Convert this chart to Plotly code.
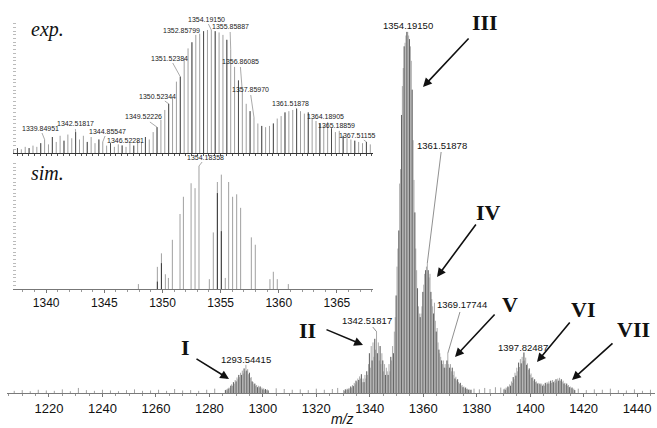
import plotly.graph_objects as go

# ---------------- data (relative intensity, %) ----------------
ISO_STEP = 1 / 3  # isotope spacing of the 3+ ions

CL1_START = 1286.0   # cluster I
CL1 = [0.8, 1.0, 0.7, 1.2, 1.5, 1.3, 2.0, 2.4, 2.0, 3.0, 2.6, 3.6, 3.2, 4.3, 3.8,
       5.0, 4.4, 5.6, 5.0, 6.2, 5.4, 6.8, 6.0, 7.8, 6.2, 6.6, 5.2, 5.6, 4.2, 4.4,
       3.2, 3.0, 2.4, 2.6, 2.0, 2.2, 1.6, 2.0, 1.5, 1.8, 1.2, 1.5, 1.0, 1.3, 0.9,
       1.1, 0.8, 1.0, 0.7]

PRE2_START = 1330.2  # rising edge of cluster II
PRE2 = [0.8, 0.6, 1.0, 0.9, 1.2, 1.0, 1.4, 1.2, 1.8, 1.5, 2.2, 1.9, 2.8, 2.4, 3.4,
        3.0, 4.0, 3.6, 4.6, 4.0, 5.2]

EXP_START = 1337.2   # clusters II-IV (also the "exp." inset)
EXP = [3, 4, 3, 5, 4, 6, 5, 8, 11, 7, 13, 9, 14, 10, 15, 12, 17, 11, 14, 9, 13,
       8, 11, 9, 6, 8, 5, 7, 6, 5, 8, 6, 10, 9, 13, 11, 17, 21, 27, 35, 40, 45,
       58, 62, 77, 85, 90, 96, 97, 99, 100, 100, 99, 98, 96, 92, 84, 70, 59, 50,
       40, 34, 29, 24, 22, 21, 22, 24, 28, 30, 33, 34, 35, 36, 34, 32, 33, 28,
       26, 24, 22, 25, 20, 17, 18, 14, 12, 11, 10, 9, 8, 9, 7]

TAIL5_START = 1368.2  # cluster V tail
TAIL5 = [8, 7, 9, 11, 8, 7, 8, 6, 7, 5, 6, 4, 4.5, 3.5, 3.8, 3, 2.5, 2.8, 2, 2.2,
         1.6, 1.8, 1.3, 1.5, 1.1, 1.2, 0.9, 1.0, 0.8, 0.9]

CL67_START = 1390.0  # clusters VI and VII
CL67 = [1.0, 1.2, 0.9, 1.5, 1.3, 1.8, 1.6, 2.4, 2.0, 3.2, 2.8, 4.4, 3.8, 5.6, 4.8,
        7.0, 6.0, 8.4, 7.2, 9.4, 8.2, 10.0, 8.8, 11.2, 9.0, 9.8, 7.8, 8.2, 6.4, 6.8,
        5.0, 5.4, 4.2, 4.4, 3.4, 3.8, 3.0, 3.2, 2.6, 2.8, 2.4, 2.6, 2.2, 2.6, 2.0,
        2.4, 2.0, 2.8, 2.4, 3.0, 2.6, 3.2, 2.6, 3.4, 2.8, 3.6, 3.0, 3.4, 2.8, 3.8,
        3.2, 4.0, 3.4, 4.2, 3.4, 3.8, 3.0, 3.4, 2.6, 2.8, 2.2, 2.6, 2.0, 2.2, 1.6,
        1.8, 1.3, 1.5, 1.0, 1.2, 0.8]

NOISE_MZ = [1207, 1210, 1213, 1216, 1219, 1222, 1225, 1228, 1231, 1234, 1237, 1240,
            1243, 1246, 1249, 1252, 1255, 1258, 1261, 1264, 1267, 1270, 1273, 1276,
            1279, 1282, 1305, 1308, 1311, 1314, 1317, 1320, 1323, 1326, 1328, 1379,
            1381, 1383, 1385, 1387, 1389, 1418, 1421, 1424, 1427, 1430, 1433, 1436,
            1439, 1442, 1445]
NOISE_INT = [0.6, 0.8, 0.5, 0.9, 0.7, 0.6, 1.0, 0.5, 1.4, 0.8, 0.6, 0.9, 0.7, 0.5,
             0.8, 1.0, 0.6, 0.7, 0.9, 0.6, 1.1, 0.7, 0.8, 0.6, 0.9, 1.2, 1.3, 1.1,
             0.9, 1.0, 0.8, 1.2, 0.9, 1.1, 1.4, 1.2, 1.0, 1.4, 1.1, 1.6, 1.5, 1.2,
             0.8, 1.0, 0.9, 1.2, 0.8, 0.7, 1.0, 0.6, 0.9]

SIM_MZ = [1347.93, 1349.56, 1349.91, 1350.25, 1350.51, 1350.85, 1351.51, 1351.80,
          1352.46, 1352.80, 1353.14, 1354.03, 1354.37, 1354.72, 1355.06, 1355.40,
          1355.69, 1356.03, 1356.38, 1356.72, 1357.64, 1357.98, 1359.24, 1359.53,
          1359.87, 1360.82]
SIM_INT = [4, 18, 29, 12, 9, 40, 61, 75, 86, 82, 100, 8, 46, 87, 93, 9, 87, 75, 77,
           66, 42, 36, 8, 14, 8, 4]
SIM_DARK_MZ = [1349.56, 1349.91, 1354.72, 1355.06]
SIM_DARK_INT = [6, 21, 78, 47]

MAIN_TICKS = [1220, 1240, 1260, 1280, 1300, 1320, 1340, 1360, 1380, 1400, 1420, 1440]
INSET_TICKS = [1340, 1345, 1350, 1355, 1360, 1365]

MAIN_LABELS = [("1354.19150", 1354.2), ("1361.51878", 1361.53), ("1369.17744", 1369.2),
               ("1342.51817", 1342.53), ("1397.82487", 1397.67), ("1293.54415", 1293.67)]
EXP_LABELS = [("1339.84951", 1339.87), ("1342.51817", 1342.53), ("1344.85547", 1344.87),
              ("1346.52281", 1346.53), ("1349.52226", 1349.53), ("1350.52344", 1350.53),
              ("1351.52384", 1351.53), ("1352.85799", 1352.87), ("1354.19150", 1354.2),
              ("1355.85887", 1355.87), ("1356.86085", 1356.87), ("1357.85970", 1357.87),
              ("1361.51878", 1361.53), ("1364.18905", 1364.2), ("1365.18859", 1365.2),
              ("1367.51155", 1367.53)]
SIM_LABEL = ("1354.18358", 1353.14)

# ---------------- geometry ----------------
W, H = 657, 428
ML, MR, MT, MB = 7, 2, 20, 35
PW, PH = W - ML - MR, H - MT - MB
X_RANGE = [1204.3, 1446.7]
Y_RANGE = [0, 103.3]
IX_RANGE = [1337.15, 1368.1]
INSET_X = (13, 373)
EXP_Y = (153, 20)     # baseline px, top px
SIM_Y = (289, 160)
EXP_YMAX = 108.1
SIM_YMAX = 104.9
SMALL_FONT = "Liberation Sans Narrow, Arial Narrow, Liberation Sans, sans-serif"


def iso(start, vals):
    return [start + i * ISO_STEP for i in range(len(vals))]


def sticks(mz, h):
    xs, ys = [], []
    for m, v in zip(mz, h):
        xs += [m, m, None]
        ys += [0, v, None]
    return xs, ys


def lookup(mz_list, int_list, m):
    i = min(range(len(mz_list)), key=lambda k: abs(mz_list[k] - m))
    return mz_list[i], int_list[i]


def paper(px, py):
    return (px - ML) / PW, (H - MB - py) / PH


main_mz = iso(CL1_START, CL1) + iso(PRE2_START, PRE2) + iso(EXP_START, EXP) + \
    iso(TAIL5_START, TAIL5) + iso(CL67_START, CL67)
main_int = CL1 + PRE2 + EXP + TAIL5 + CL67
exp_mz = iso(EXP_START, EXP)

GREY = "#a0a0a0"
DARK = "#363636"

fig = go.Figure()
x, y = sticks(NOISE_MZ, NOISE_INT)
fig.add_trace(go.Scatter(x=x, y=y, mode="lines", line=dict(color=GREY, width=1),
                         xaxis="x", yaxis="y", hoverinfo="skip"))
x, y = sticks(main_mz, main_int)
fig.add_trace(go.Scatter(x=x, y=y, mode="lines", line=dict(color=GREY, width=0.9),
                         xaxis="x", yaxis="y", hoverinfo="skip"))
x, y = sticks(main_mz[::3], main_int[::3])
fig.add_trace(go.Scatter(x=x, y=y, mode="lines", line=dict(color=DARK, width=0.6),
                         xaxis="x", yaxis="y", hoverinfo="skip"))

# exp inset
x, y = sticks(exp_mz, EXP)
fig.add_trace(go.Scatter(x=x, y=y, mode="lines", line=dict(color=GREY, width=1),
                         xaxis="x2", yaxis="y2", hoverinfo="skip"))
x, y = sticks(exp_mz[1::3], EXP[1::3])
fig.add_trace(go.Scatter(x=x, y=y, mode="lines", line=dict(color=DARK, width=0.8),
                         xaxis="x2", yaxis="y2", hoverinfo="skip"))
# sim inset
x, y = sticks(SIM_MZ, SIM_INT)
fig.add_trace(go.Scatter(x=x, y=y, mode="lines", line=dict(color=GREY, width=1),
                         xaxis="x3", yaxis="y3", hoverinfo="skip"))
x, y = sticks(SIM_DARK_MZ, SIM_DARK_INT)
fig.add_trace(go.Scatter(x=x, y=y, mode="lines", line=dict(color=DARK, width=1),
                         xaxis="x3", yaxis="y3", hoverinfo="skip"))

ix0 = (INSET_X[0] - ML) / PW
ix1 = (INSET_X[1] - ML) / PW
fig.update_layout(
    width=W, height=H, margin=dict(l=ML, r=MR, t=MT, b=MB),
    paper_bgcolor="white", plot_bgcolor="rgba(0,0,0,0)", showlegend=False,
    font=dict(family="Liberation Sans, Arial, sans-serif", color="#111"),
    xaxis=dict(domain=[0, 1], range=X_RANGE, anchor="y", tickvals=MAIN_TICKS,
               ticks="outside", ticklen=3, tickcolor="#777", showline=True,
               linecolor="#7a7a7a", linewidth=1, showgrid=False, zeroline=False,
               tickfont=dict(size=13, color="#111"),
               minor=dict(ticks="outside", ticklen=2, dtick=5, tickcolor="#999")),
    yaxis=dict(domain=[0, 1], range=Y_RANGE, visible=False),
    xaxis2=dict(domain=[ix0, ix1], range=IX_RANGE, anchor="y2", showline=True,
                linecolor="#333", linewidth=1, ticks="outside", ticklen=2, dtick=0.5,
                tickcolor="#555", showticklabels=False, showgrid=False, zeroline=False),
    yaxis2=dict(domain=[(H - MB - EXP_Y[0]) / PH, (H - MB - EXP_Y[1]) / PH],
                range=[0, EXP_YMAX], anchor="x2", ticks="inside", ticklen=3, dtick=3,
                tickcolor="#bbb", showticklabels=False, showline=False, showgrid=False,
                zeroline=False),
    xaxis3=dict(domain=[ix0, ix1], range=IX_RANGE, anchor="y3", tickvals=INSET_TICKS,
                showline=True, linecolor="#777", linewidth=1, ticks="outside", ticklen=3,
                tickcolor="#777", showgrid=False, zeroline=False,
                tickfont=dict(size=12, color="#111"),
                minor=dict(ticks="outside", ticklen=2, dtick=1, tickcolor="#999")),
    yaxis3=dict(domain=[(H - MB - SIM_Y[0]) / PH, (H - MB - SIM_Y[1]) / PH],
                range=[0, SIM_YMAX], anchor="x3", ticks="inside", ticklen=3, dtick=3,
                tickcolor="#bbb", showticklabels=False, showline=False, showgrid=False,
                zeroline=False),
)

ann = []


def main_px(m, v):
    return (ML + (m - X_RANGE[0]) / (X_RANGE[1] - X_RANGE[0]) * PW,
            H - MB - v / Y_RANGE[1] * PH)


def inset_px(m, v, base, top, ymax):
    px = INSET_X[0] + (m - IX_RANGE[0]) / (IX_RANGE[1] - IX_RANGE[0]) * (INSET_X[1] - INSET_X[0])
    return px, base - v / ymax * (base - top)


# main peak labels: (text centre in px)
MAIN_LABEL_POS = [(408, 25), (442, 145), (462, 305), (367, 320), (523, 347), (246, 359)]
for (txt, m), (tx, ty) in zip(MAIN_LABELS, MAIN_LABEL_POS):
    mm, v = lookup(main_mz, main_int, m)
    px, py = main_px(mm, v)
    ann.append(dict(x=mm, y=v, xref="x", yref="y", text=txt, showarrow=True,
                    arrowhead=0, arrowwidth=0.6, arrowcolor="#444", standoff=0,
                    ax=tx - px, ay=ty - py, font=dict(size=9.5, color="#111")))

EXP_LABEL_POS = [(40, 128), (75, 124), (107, 131), (126, 140), (143, 117), (158, 96),
                 (170, 58), (182, 30), (206, 19), (230, 27), (240, 62), (250, 90),
                 (290, 103), (325, 117), (336, 126), (357, 135)]
for (txt, m), (tx, ty) in zip(EXP_LABELS, EXP_LABEL_POS):
    mm, v = lookup(exp_mz, EXP, m)
    px, py = inset_px(mm, v, EXP_Y[0], EXP_Y[1], EXP_YMAX)
    ann.append(dict(x=mm, y=v, xref="x2", yref="y2", text=txt, showarrow=True,
                    arrowhead=0, arrowwidth=0.5, arrowcolor="#555", standoff=0,
                    ax=tx - px, ay=ty - py,
                    font=dict(family=SMALL_FONT, size=7, color="#222")))

mm, v = lookup(SIM_MZ, SIM_INT, SIM_LABEL[1])
px, py = inset_px(mm, v, SIM_Y[0], SIM_Y[1], SIM_YMAX)
ann.append(dict(x=mm, y=v, xref="x3", yref="y3", text=SIM_LABEL[0], showarrow=True,
                arrowhead=0, arrowwidth=0.5, arrowcolor="#555", standoff=0,
                ax=206 - px, ay=157 - py,
                font=dict(family=SMALL_FONT, size=7, color="#222")))

# roman numerals and arrows (tail px, head px, label px)
ROMAN = [("I", (195, 358), (229, 379), (185, 347)),
         ("II", (325, 329), (363, 345), (307, 330)),
         ("III", (470, 37), (423, 87), (485, 22)),
         ("IV", (477, 223), (437, 277), (488, 212)),
         ("V", (496, 313), (455, 357), (510, 304)),
         ("VI", (571, 321), (537, 362), (583, 309)),
         ("VII", (614, 342), (572, 380), (633, 329))]
for txt, tail, head, lab in ROMAN:
    hx, hy = paper(*head)
    ann.append(dict(x=hx, y=hy, xref="paper", yref="paper", text="", showarrow=True,
                    arrowhead=2, arrowsize=1.1, arrowwidth=1.6, arrowcolor="#111",
                    ax=tail[0] - head[0], ay=tail[1] - head[1], standoff=0))
    lx, ly = paper(*lab)
    ann.append(dict(x=lx, y=ly, xref="paper", yref="paper", text=f"<b>{txt}</b>",
                    showarrow=False, xanchor="center", yanchor="middle",
                    font=dict(family="Liberation Serif, Times New Roman, serif", size=22,
                              color="#111")))

for txt, (tx, ty) in [("exp.", (47, 29)), ("sim.", (47, 173))]:
    lx, ly = paper(tx, ty)
    ann.append(dict(x=lx, y=ly, xref="paper", yref="paper", text=f"<i>{txt}</i>",
                    showarrow=False, xanchor="center", yanchor="middle",
                    font=dict(family="Liberation Serif, Times New Roman, serif", size=20,
                              color="#111")))

lx, ly = paper(342, 419)
ann.append(dict(x=lx, y=ly, xref="paper", yref="paper", text="<i>m/z</i>",
                showarrow=False, xanchor="center", yanchor="middle",
                font=dict(size=14, color="#111")))

fig.update_layout(annotations=ann)
fig.write_html("out.html", config={"displayModeBar": False},
               post_script="document.body.style.margin='0';")
